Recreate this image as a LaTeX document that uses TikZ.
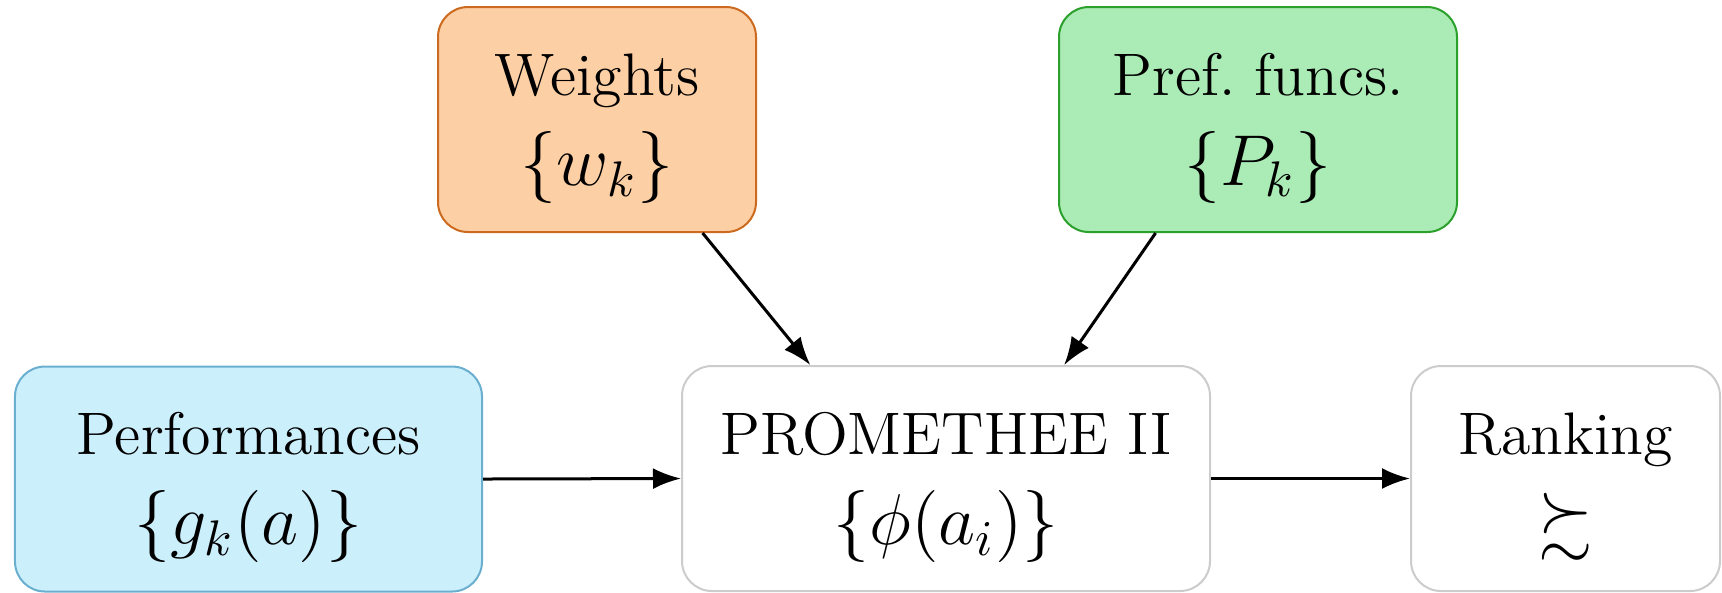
\documentclass[tikz,border=0pt]{standalone}
\usepackage{amssymb}
\usetikzlibrary{arrows.meta,calc}

\definecolor{perfFill}{HTML}{CCEFFC}
\definecolor{perfLine}{HTML}{6AAFD0}
\definecolor{wFill}{HTML}{FDCFA4}
\definecolor{wLine}{HTML}{CC6A1F}
\definecolor{pFill}{HTML}{ABEBB5}
\definecolor{pLine}{HTML}{2CA02C}
\definecolor{plainLine}{HTML}{CCCCCC}

% two-line box label: name, then a slightly larger formula;
% fixed struts so every box sets its text alike
\newcommand{\boxtext}[2]{\rule{0pt}{11.9pt}#1\\%
  {\fontsize{14}{18}\selectfont#2}\rule[-3.5pt]{0pt}{3.5pt}}

\begin{document}
\begin{tikzpicture}[x=0.2pt,y=-0.2pt,
  box/.style={rectangle, rounded corners=6pt, line width=0.4pt,
    align=center, inner sep=0pt,
    font=\fontsize{12}{18}\selectfont,
    minimum height=45pt},
  flow/.style={line width=0.6pt, -{Latex[length=5.6pt,width=4.2pt]}}
]
\useasboundingbox (0,0) rectangle (1722,592);

% input boxes
\node[box, draw=perfLine, fill=perfFill, minimum width=93.4pt] (perf) at (248.5,479)
  {\boxtext{Performances}{$\{g_k(a)\}$}};
\node[box, draw=wLine, fill=wFill, minimum width=63.6pt] (wts) at (597,119.5)
  {\boxtext{Weights}{$\{w_k\}$}};
\node[box, draw=pLine, fill=pFill, minimum width=79.6pt] (pref) at (1258,119.5)
  {\boxtext{Pref.\ funcs.}{$\{P_k\}$}};

% method and result
\node[box, draw=plainLine, fill=white, minimum width=105.6pt] (prom) at (946,478.5)
  {\boxtext{PROMETHEE II}{$\{\phi(a_i)\}$}};
\node[box, draw=plainLine, fill=white, minimum width=61.8pt] (rank) at (1565.5,478.5)
  {\boxtext{Ranking}{$\succsim$}};

% connectors
\draw[flow] (perf.east) -- (prom.west);
\draw[flow] (prom.east) -- (rank.west);
\draw[flow] ($(wts.south west)!0.83!(wts.south east)$) -- ($(prom.north west)!0.244!(prom.north east)$);
\draw[flow] ($(pref.south west)!0.244!(pref.south east)$) -- ($(prom.north west)!0.723!(prom.north east)$);
\end{tikzpicture}
\end{document}
